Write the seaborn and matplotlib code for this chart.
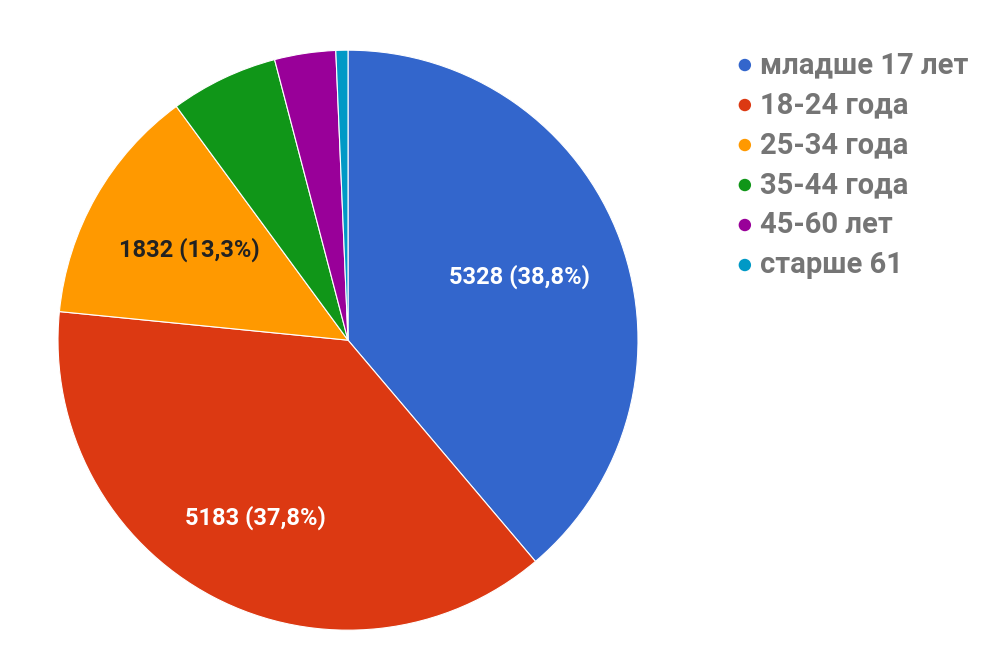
import matplotlib
matplotlib.use("Agg")
import matplotlib.pyplot as plt
import seaborn as sns

categories = ["младше 17 лет", "18-24 года", "25-34 года", "35-44 года", "45-60 лет", "старше 61"]
counts = [5328, 5183, 1832, 825, 467, 92]
colors = ["#3366cc", "#dc3912", "#ff9900", "#109618", "#990099", "#0099c6"]
label_colors = ["white", "white", "#222222", "white", "white", "white"]
label_dist = [0.63, 0.69, 0.63, 0.65, 0.65, 0.65]

sns.set_theme(style="white")
plt.rcParams["font.family"] = ["Roboto", "DejaVu Sans"]
palette = sns.color_palette(colors)

fig = plt.figure(figsize=(10, 6.67), dpi=100)
ax = fig.add_axes([0.058, 0.055, 0.58, 0.87])

total = sum(counts)

def fmt(pct):
    if pct < 10:
        return ""
    val = int(round(pct * total / 100))
    return f"{val} ({pct:.1f}%)".replace(".", ",")

wedges, texts, autotexts = ax.pie(
    counts, colors=palette, startangle=90, counterclock=False,
    autopct=fmt, pctdistance=0.65,
    wedgeprops=dict(edgecolor="white", linewidth=0.8),
    textprops=dict(fontsize=17, fontweight="bold"),
)
for t, c, d in zip(autotexts, label_colors, label_dist):
    t.set_color(c)
    x, y = t.get_position()
    t.set_position((x / 0.65 * d, y / 0.65 * d))
ax.set_xlim(-1, 1)
ax.set_ylim(-1, 1)
ax.set_aspect("equal")
ax.axis("off")

# legend drawn by hand so rows keep an even pitch
lax = fig.add_axes([0.73, 0.5697, 0.27, 0.3538])
lax.set_xlim(0, 1)
lax.set_ylim(len(categories) - 0.45, -0.35)
lax.axis("off")
for i, (name, c) in enumerate(zip(categories, colors)):
    lax.scatter([0.055], [i], s=80, color=c, edgecolor="none")
    lax.text(0.11, i, name, fontsize=21, fontweight="bold", color="#757575", va="center", ha="left")

fig.savefig("out.png", dpi=100)
